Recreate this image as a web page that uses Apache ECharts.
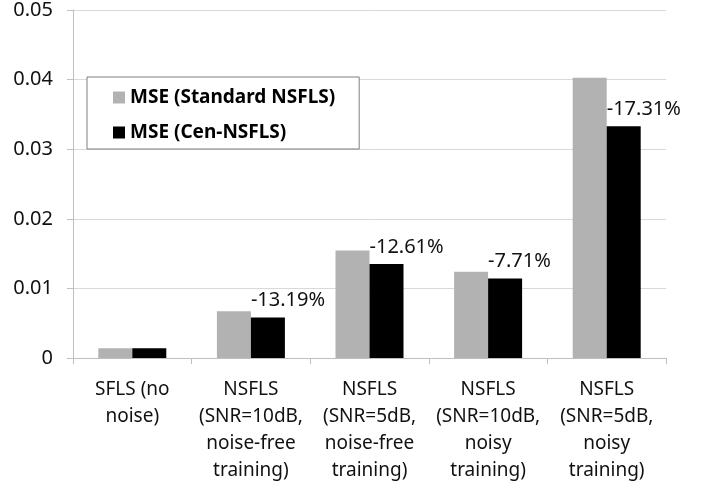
<!DOCTYPE html>
<html>
<head>
<meta charset="utf-8">
<script src="https://cdn.jsdelivr.net/npm/echarts@6/dist/echarts.min.js"></script>
<style>
  html, body { margin: 0; padding: 0; background: #fff; }
  #chart { width: 710px; height: 484px; }
</style>
</head>
<body>
<div id="chart"></div>
<script>
var categories = [
  'SFLS (no\nnoise)',
  'NSFLS\n(SNR=10dB,\nnoise-free\ntraining)',
  'NSFLS\n(SNR=5dB,\nnoise-free\ntraining)',
  'NSFLS\n(SNR=10dB,\nnoisy\ntraining)',
  'NSFLS\n(SNR=5dB,\nnoisy\ntraining)'
];
var seriesNames = ['MSE (Standard NSFLS)', 'MSE (Cen-NSFLS)'];
var mseStandard = [0.0014, 0.0067, 0.01546, 0.01238, 0.04026];
var mseCen = [0.0014, 0.00582, 0.01351, 0.01143, 0.03329];
var reductionLabels = ['', '-13.19%', '-12.61%', '-7.71%', '-17.31%'];
var yTicks = { min: 0, max: 0.05, interval: 0.01 };

var FONT = '"Noto Sans", "DejaVu Sans", sans-serif';

var chart = echarts.init(document.getElementById('chart'), null, { renderer: 'canvas' });
chart.setOption({
  animation: false,
  backgroundColor: '#ffffff',
  textStyle: { fontFamily: FONT },
  grid: { left: 73, right: 44, top: 7, bottom: 125, containLabel: false },
  legend: {
    orient: 'vertical',
    left: 87,
    top: 77,
    padding: [11, 24, 7, 26],
    itemGap: 16,
    itemWidth: 12,
    itemHeight: 12,
    icon: 'rect',
    backgroundColor: '#ffffff',
    borderColor: '#7f7f7f',
    borderWidth: 1,
    borderRadius: 0,
    textStyle: { fontFamily: FONT, fontSize: 19, fontWeight: 'bold', color: '#000' },
    data: seriesNames
  },
  xAxis: {
    type: 'category',
    data: categories,
    axisLine: { show: true, lineStyle: { color: '#bfbfbf', width: 1 } },
    axisTick: { show: true, length: 6, lineStyle: { color: '#bfbfbf' } },
    axisLabel: {
      interval: 0,
      margin: 18,
      fontFamily: FONT,
      fontSize: 19,
      lineHeight: 27,
      color: '#111',
      align: 'center'
    }
  },
  yAxis: {
    type: 'value',
    min: yTicks.min,
    max: yTicks.max,
    interval: yTicks.interval,
    axisLine: { show: true, lineStyle: { color: '#bfbfbf', width: 1 } },
    axisTick: { show: true, length: 6, lineStyle: { color: '#bfbfbf' } },
    splitLine: { show: true, lineStyle: { color: '#d9d9d9', width: 1 } },
    axisLabel: {
      margin: 20,
      fontFamily: FONT,
      fontSize: 20,
      color: '#111'
    }
  },
  series: [
    {
      name: seriesNames[0],
      type: 'bar',
      data: mseStandard,
      barWidth: 34,
      barGap: '0%',
      itemStyle: { color: '#b2b2b2' }
    },
    {
      name: seriesNames[1],
      type: 'bar',
      data: mseCen.map(function (v, i) {
        return {
          value: v,
          label: {
            show: reductionLabels[i] !== '',
            formatter: reductionLabels[i]
          }
        };
      }),
      barWidth: 34,
      barGap: '0%',
      itemStyle: { color: '#000000' },
      label: {
        show: true,
        position: 'top',
        distance: 17,
        align: 'left',
        verticalAlign: 'middle',
        offset: [-17, 0],
        fontFamily: FONT,
        fontSize: 20,
        color: '#111'
      }
    }
  ]
});
</script>
</body>
</html>
